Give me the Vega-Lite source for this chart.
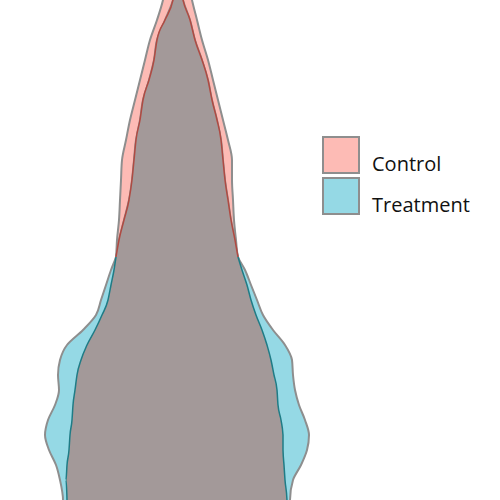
{
  "$schema": "https://vega.github.io/schema/vega-lite/v6.json",
  "width": 500,
  "height": 500,
  "padding": 0,
  "autosize": {"type": "fit", "contains": "padding"},
  "background": "white",
  "config": {"view": {"stroke": null}},
  "data": {"values": [
    {"y": -10, "cLo": 165, "cHi": 190, "tLo": 175, "tHi": 181},
    {"y": 0, "cLo": 163, "cHi": 192, "tLo": 173, "tHi": 183},
    {"y": 20, "cLo": 157, "cHi": 197, "tLo": 165, "tHi": 190},
    {"y": 40, "cLo": 150, "cHi": 202, "tLo": 157, "tHi": 195},
    {"y": 60, "cLo": 145, "cHi": 208, "tLo": 154, "tHi": 202},
    {"y": 80, "cLo": 140, "cHi": 213, "tLo": 149, "tHi": 208},
    {"y": 100, "cLo": 135, "cHi": 218, "tLo": 143, "tHi": 212},
    {"y": 120, "cLo": 130, "cHi": 223, "tLo": 140, "tHi": 217},
    {"y": 140, "cLo": 126, "cHi": 228, "tLo": 136, "tHi": 221},
    {"y": 160, "cLo": 122, "cHi": 232, "tLo": 134, "tHi": 223},
    {"y": 180, "cLo": 121, "cHi": 232, "tLo": 132, "tHi": 225},
    {"y": 200, "cLo": 120, "cHi": 233, "tLo": 129, "tHi": 228},
    {"y": 220, "cLo": 119, "cHi": 234, "tLo": 124, "tHi": 231},
    {"y": 240, "cLo": 117, "cHi": 236, "tLo": 119, "tHi": 235},
    {"y": 257, "cLo": 116, "cHi": 238, "tLo": 116, "tHi": 238},
    {"y": 270, "cLo": 114, "cHi": 242, "tLo": 111, "tHi": 245},
    {"y": 285, "cLo": 111, "cHi": 247, "tLo": 106, "tHi": 251},
    {"y": 300, "cLo": 108, "cHi": 251, "tLo": 101, "tHi": 257},
    {"y": 315, "cLo": 102, "cHi": 256, "tLo": 96, "tHi": 263},
    {"y": 330, "cLo": 95, "cHi": 262, "tLo": 83, "tHi": 273},
    {"y": 345, "cLo": 87, "cHi": 267, "tLo": 67, "tHi": 285},
    {"y": 360, "cLo": 81, "cHi": 271, "tLo": 60, "tHi": 292},
    {"y": 375, "cLo": 77, "cHi": 274, "tLo": 58, "tHi": 293},
    {"y": 390, "cLo": 75, "cHi": 277, "tLo": 59, "tHi": 295},
    {"y": 405, "cLo": 73, "cHi": 278, "tLo": 55, "tHi": 299},
    {"y": 420, "cLo": 72, "cHi": 281, "tLo": 48, "tHi": 305},
    {"y": 435, "cLo": 70, "cHi": 283, "tLo": 45, "tHi": 309},
    {"y": 450, "cLo": 69, "cHi": 283, "tLo": 49, "tHi": 307},
    {"y": 465, "cLo": 67, "cHi": 284, "tLo": 56, "tHi": 301},
    {"y": 480, "cLo": 66, "cHi": 285, "tLo": 60, "tHi": 293},
    {"y": 500, "cLo": 67, "cHi": 287, "tLo": 63, "tHi": 290},
    {"y": 510, "cLo": 67, "cHi": 287, "tLo": 63, "tHi": 290}
  ]},
  "layer": [
    {
      "mark": {"type": "area", "orient": "horizontal", "clip": true, "stroke": "#8e8e8e", "strokeWidth": 2, "opacity": 1, "interpolate": "monotone"},
      "encoding": {
        "y": {"field": "y", "type": "quantitative", "scale": {"domain": [0, 500], "reverse": true, "nice": false, "zero": false}, "axis": null},
        "x": {"field": "cLo", "type": "quantitative", "scale": {"domain": [0, 500], "nice": false, "zero": false}, "axis": null},
        "x2": {"field": "cHi"},
        "color": {"datum": "Control", "type": "nominal",
          "scale": {"domain": ["Control", "Treatment"], "range": ["#fdbbb5", "#95d9e5"]},
          "legend": {"title": null, "orient": "none", "legendX": 322, "legendY": 136, "symbolType": "square", "symbolSize": 1296, "symbolStrokeColor": "#8e8e8e", "symbolStrokeWidth": 2, "symbolOpacity": 1, "labelFont": "Open Sans", "labelFontSize": 20, "labelColor": "#111111", "labelOffset": 12, "labelBaseline": "top", "rowPadding": -13, "padding": 0}
        }
      }
    },
    {
      "mark": {"type": "area", "orient": "horizontal", "clip": true, "stroke": "#8e8e8e", "strokeWidth": 2, "opacity": 1, "interpolate": "monotone"},
      "encoding": {
        "y": {"field": "y", "type": "quantitative"},
        "x": {"field": "tLo", "type": "quantitative"},
        "x2": {"field": "tHi"},
        "color": {"datum": "Treatment", "type": "nominal"}
      }
    },
    {
      "transform": [{"filter": "datum.y <= 257"}],
      "mark": {"type": "area", "orient": "horizontal", "clip": true, "color": "#a39999", "opacity": 1, "interpolate": "monotone"},
      "encoding": {
        "y": {"field": "y", "type": "quantitative"},
        "x": {"field": "tLo", "type": "quantitative"},
        "x2": {"field": "tHi"}
      }
    },
    {
      "transform": [{"filter": "datum.y >= 257"}],
      "mark": {"type": "area", "orient": "horizontal", "clip": true, "color": "#a39999", "opacity": 1, "interpolate": "monotone"},
      "encoding": {
        "y": {"field": "y", "type": "quantitative"},
        "x": {"field": "cLo", "type": "quantitative"},
        "x2": {"field": "cHi"}
      }
    },
    {
      "transform": [{"filter": "datum.y <= 257"}],
      "mark": {"type": "line", "clip": true, "color": "#b04a42", "strokeWidth": 1.5, "interpolate": "monotone"},
      "encoding": {
        "y": {"field": "y", "type": "quantitative"},
        "x": {"field": "tLo", "type": "quantitative"},
        "order": {"field": "y", "type": "quantitative"}
      }
    },
    {
      "transform": [{"filter": "datum.y <= 257"}],
      "mark": {"type": "line", "clip": true, "color": "#b04a42", "strokeWidth": 1.5, "interpolate": "monotone"},
      "encoding": {
        "y": {"field": "y", "type": "quantitative"},
        "x": {"field": "tHi", "type": "quantitative"},
        "order": {"field": "y", "type": "quantitative"}
      }
    },
    {
      "transform": [{"filter": "datum.y >= 257"}],
      "mark": {"type": "line", "clip": true, "color": "#1f7c86", "strokeWidth": 1.5, "interpolate": "monotone"},
      "encoding": {
        "y": {"field": "y", "type": "quantitative"},
        "x": {"field": "cLo", "type": "quantitative"},
        "order": {"field": "y", "type": "quantitative"}
      }
    },
    {
      "transform": [{"filter": "datum.y >= 257"}],
      "mark": {"type": "line", "clip": true, "color": "#1f7c86", "strokeWidth": 1.5, "interpolate": "monotone"},
      "encoding": {
        "y": {"field": "y", "type": "quantitative"},
        "x": {"field": "cHi", "type": "quantitative"},
        "order": {"field": "y", "type": "quantitative"}
      }
    }
  ]
}
